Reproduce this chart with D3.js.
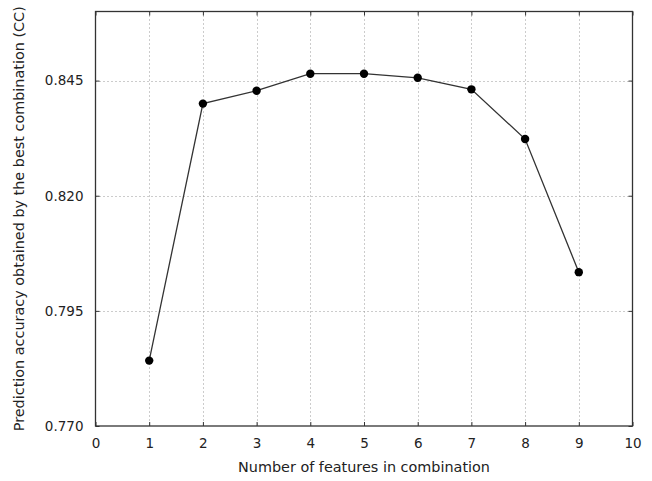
<!DOCTYPE html>
<html>
<head>
<meta charset="utf-8">
<script src="https://cdn.jsdelivr.net/npm/d3@7"></script>
<style>
  body { margin: 0; background: #fff; }
  text { font-family: "DejaVu Sans", sans-serif; fill: #222; }
</style>
</head>
<body>
<div id="chart"></div>
<script>
// chart data
var features = [1, 2, 3, 4, 5, 6, 7, 8, 9];
var accuracy = [0.7842, 0.8400, 0.8428, 0.8465, 0.8465, 0.8456, 0.8431, 0.8323, 0.8034];
var xTicks = [0, 1, 2, 3, 4, 5, 6, 7, 8, 9, 10];
var yTicks = [0.770, 0.795, 0.820, 0.845];

var width = 652, height = 481;
var plotLeft = 95.5, plotRight = 632.5, plotTop = 11.5, plotBottom = 426;

var svg = d3.select("#chart").append("svg")
  .attr("width", width)
  .attr("height", height);

var xScale = d3.scaleLinear().domain([0, 10]).range([plotLeft, plotRight]);
var yScale = d3.scaleLinear().domain([0.770, 0.860]).range([plotBottom, plotTop]);

// grid lines
var grid = svg.append("g").attr("class", "grid");
grid.selectAll("line.gx").data(xTicks.slice(1, -1)).enter().append("line")
  .attr("x1", function(d) { return Math.round(xScale(d)) + 0.5; })
  .attr("x2", function(d) { return Math.round(xScale(d)) + 0.5; })
  .attr("y1", plotTop).attr("y2", plotBottom)
  .attr("stroke", "#999").attr("stroke-width", 1).attr("stroke-dasharray", "1,3");
grid.selectAll("line.gy").data(yTicks.slice(1)).enter().append("line")
  .attr("y1", function(d) { return Math.round(yScale(d)) + 0.5; })
  .attr("y2", function(d) { return Math.round(yScale(d)) + 0.5; })
  .attr("x1", plotLeft).attr("x2", plotRight)
  .attr("stroke", "#999").attr("stroke-width", 1).attr("stroke-dasharray", "1,3");

// axes with inward ticks
var xAxis = d3.axisBottom(xScale).tickValues(xTicks).tickFormat(d3.format("d"))
  .tickSizeInner(-4).tickSizeOuter(0).tickPadding(12);
var yAxis = d3.axisLeft(yScale).tickValues(yTicks).tickFormat(d3.format(".3f"))
  .tickSizeInner(-4).tickSizeOuter(0).tickPadding(12);

svg.append("g").attr("class", "xAxis")
  .attr("transform", "translate(0," + plotBottom + ")")
  .call(xAxis);
svg.append("g").attr("class", "yAxis")
  .attr("transform", "translate(" + plotLeft + ",0)")
  .call(yAxis);
// ticks on top and right too
svg.append("g").attr("transform", "translate(0," + plotTop + ")")
  .call(d3.axisTop(xScale).tickValues(xTicks).tickFormat("").tickSizeInner(-4).tickSizeOuter(0));
svg.append("g").attr("transform", "translate(" + plotRight + ",0)")
  .call(d3.axisRight(yScale).tickValues(yTicks).tickFormat("").tickSizeInner(-4).tickSizeOuter(0));

svg.selectAll(".domain").remove();
svg.selectAll(".tick line").attr("stroke", "#333");
svg.selectAll(".tick text").style("font-size", "13.5px").attr("fill", "#222");

// frame
svg.append("rect")
  .attr("x", plotLeft).attr("y", plotTop)
  .attr("width", plotRight - plotLeft).attr("height", plotBottom - plotTop)
  .attr("fill", "none").attr("stroke", "#333").attr("stroke-width", 1.3);

// line and markers
var pts = features.map(function(f, i) { return [f, accuracy[i]]; });
var line = d3.line()
  .x(function(d) { return xScale(d[0]); })
  .y(function(d) { return yScale(d[1]); });
svg.append("path").datum(pts)
  .attr("d", line)
  .attr("fill", "none").attr("stroke", "#333").attr("stroke-width", 1.3);
svg.selectAll("circle.pt").data(pts).enter().append("circle")
  .attr("class", "pt")
  .attr("cx", function(d) { return xScale(d[0]); })
  .attr("cy", function(d) { return yScale(d[1]); })
  .attr("r", 4.2).attr("fill", "#000");

// axis labels
svg.append("text")
  .attr("x", (plotLeft + plotRight) / 2).attr("y", 472)
  .attr("text-anchor", "middle").style("font-size", "14.4px")
  .text("Number of features in combination");
svg.append("text")
  .attr("transform", "translate(24," + ((plotTop + plotBottom) / 2) + ")rotate(-90)")
  .attr("text-anchor", "middle").style("font-size", "14.4px")
  .text("Prediction accuracy obtained by the best combination (CC)");
</script>
</body>
</html>
